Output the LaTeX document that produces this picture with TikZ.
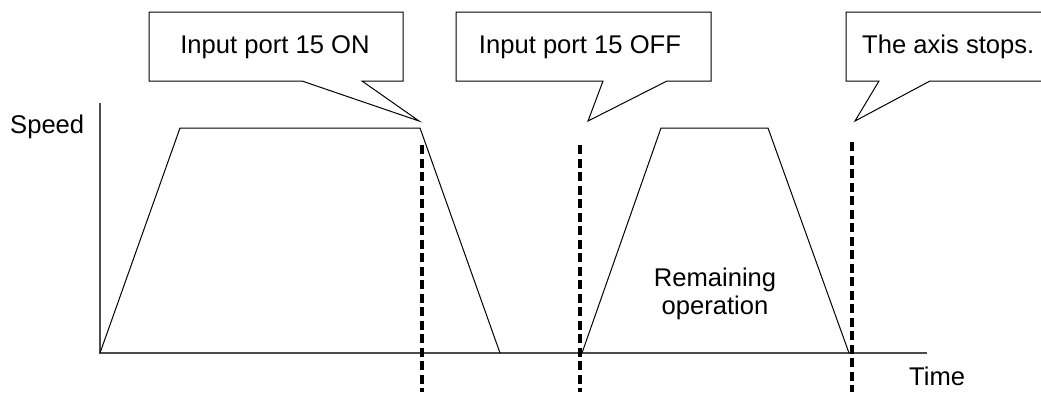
\documentclass[tikz,border=0pt]{standalone}
\usepackage{fontspec}
\setmainfont{Liberation Sans}
\begin{document}
\begin{tikzpicture}[x=1pt,y=-1pt,
  lbl/.style={inner sep=0pt,font=\fontsize{25.6}{28}\selectfont},
  axisline/.style={line width=1.2pt,black!70},
  profile/.style={line width=1pt,black},
  callout/.style={line width=1pt,black,fill=white,line join=miter},
  marker/.style={line width=3.8pt,black,dash pattern=on 9pt off 4.5pt}]
\clip (0,0) rectangle (1041,392);
\fill[white] (0,0) rectangle (1041,392);
% axes
\coordinate (O) at (100,353);
\coordinate (ytop) at (100,103);
\coordinate (xend) at (927,353);
\draw[axisline] (ytop) -- (O) -- (xend);
% speed profiles
\coordinate (a0) at (100,353);
\coordinate (a1) at (180,128);
\coordinate (a2) at (420,128);
\coordinate (a3) at (500,353);
\draw[profile] (a0) -- (a1) -- (a2) -- (a3);
\coordinate (b0) at (582,353);
\coordinate (b1) at (661,128);
\coordinate (b2) at (768,128);
\coordinate (b3) at (849,353);
\draw[profile] (b0) -- (b1) -- (b2) -- (b3);
% dashed markers
\coordinate (d1t) at (422,145);
\coordinate (d1b) at (422,392);
\coordinate (d2t) at (580,145);
\coordinate (d2b) at (580,392);
\coordinate (d3t) at (852,142);
\coordinate (d3b) at (852,392);
\draw[marker] (d1t) -- (d1b);
\draw[marker] (d2t) -- (d2b);
\draw[marker] (d3t) -- (d3b);
% callouts
\draw[callout] (149,12) -- (403,12) -- (403,81) -- (362,81) -- (419,121) -- (302,81) -- (149,81) -- cycle;
\draw[callout] (456,12) -- (711,12) -- (711,81) -- (667,81) -- (588,121) -- (603,81) -- (456,81) -- cycle;
\draw[callout] (846,12) -- (1060,12) -- (1060,81) -- (930,81) -- (855,121) -- (879,81) -- (846,81) -- cycle;
\node[lbl,anchor=base] (c1) at (275,53) {Input port 15 ON};
\node[lbl,anchor=base] (c2) at (580,53) {Input port 15 OFF};
\node[lbl,anchor=base west] (c3) at (862,53) {The axis stops.};
% labels
\node[lbl,anchor=base west] (speed) at (10,133) {Speed};
\node[lbl,anchor=base west] (time) at (909,385) {Time};
\node[lbl,align=center,anchor=center] (rem) at (715,294) {Remaining\\operation};
\end{tikzpicture}
\end{document}
